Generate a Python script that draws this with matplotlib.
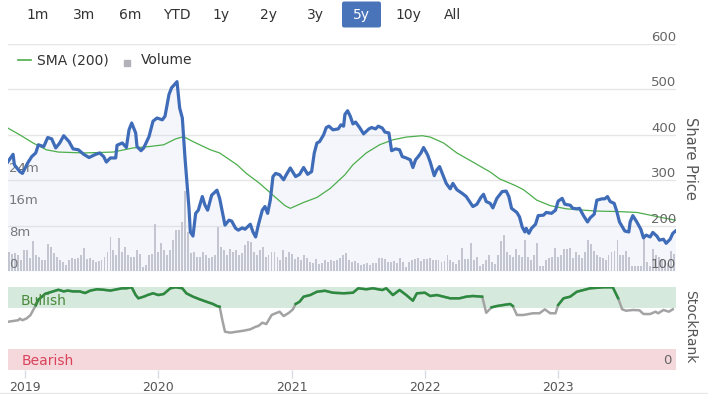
"""
5y share price chart with SMA(200), volume and StockRank panel
"""
import matplotlib
matplotlib.use('Agg')
import matplotlib.pyplot as plt
import matplotlib.transforms as mtransforms
from matplotlib.lines import Line2D
from matplotlib.patches import Rectangle, FancyBboxPatch
import numpy as np

plt.rcParams['font.family'] = 'DejaVu Sans'

# ============ data ============
price_t = [2018.87, 2018.91, 2018.92, 2018.96, 2018.98, 2019.02, 2019.05, 2019.08, 2019.10, 2019.14,
           2019.17, 2019.20, 2019.23, 2019.26, 2019.29, 2019.33, 2019.36, 2019.40, 2019.44, 2019.48,
           2019.53, 2019.56, 2019.59, 2019.61, 2019.64, 2019.68, 2019.69, 2019.73, 2019.76, 2019.78,
           2019.80, 2019.83, 2019.84, 2019.87, 2019.89, 2019.93, 2019.96, 2019.99, 2020.03, 2020.05,
           2020.08, 2020.10, 2020.11, 2020.14, 2020.16, 2020.18, 2020.20, 2020.23, 2020.24, 2020.26,
           2020.28, 2020.30, 2020.33, 2020.35, 2020.37, 2020.40, 2020.44, 2020.46, 2020.49, 2020.50,
           2020.53, 2020.55, 2020.58, 2020.60, 2020.63, 2020.65, 2020.69, 2020.71, 2020.73, 2020.75,
           2020.78, 2020.80, 2020.82, 2020.84, 2020.86, 2020.88, 2020.91, 2020.94, 2020.96, 2020.99,
           2021.03, 2021.06, 2021.09, 2021.12, 2021.15, 2021.17, 2021.19, 2021.21, 2021.24, 2021.26,
           2021.28, 2021.31, 2021.35, 2021.37, 2021.39, 2021.40, 2021.42, 2021.44, 2021.46, 2021.48,
           2021.51, 2021.54, 2021.58, 2021.60, 2021.63, 2021.65, 2021.68, 2021.70, 2021.73, 2021.75,
           2021.78, 2021.81, 2021.83, 2021.86, 2021.89, 2021.91, 2021.93, 2021.95, 2021.97, 2021.99,
           2022.02, 2022.04, 2022.07, 2022.09, 2022.11, 2022.13, 2022.16, 2022.19, 2022.21, 2022.24,
           2022.28, 2022.31, 2022.34, 2022.36, 2022.39, 2022.42, 2022.44, 2022.46, 2022.49, 2022.51,
           2022.54, 2022.58, 2022.61, 2022.63, 2022.65, 2022.69, 2022.71, 2022.73, 2022.75, 2022.76,
           2022.78, 2022.80, 2022.83, 2022.85, 2022.89, 2022.91, 2022.95, 2022.98, 2023.00, 2023.03,
           2023.05, 2023.09, 2023.11, 2023.14, 2023.16, 2023.19, 2023.22, 2023.24, 2023.27, 2023.29,
           2023.33, 2023.35, 2023.37, 2023.39, 2023.42, 2023.44, 2023.46, 2023.50, 2023.53, 2023.54,
           2023.56, 2023.59, 2023.62, 2023.64, 2023.66, 2023.69, 2023.71, 2023.74, 2023.76, 2023.79,
           2023.81, 2023.84, 2023.86, 2023.88]
price = [340, 357, 334, 319, 315, 338, 352, 360, 378, 374,
         394, 391, 371, 382, 398, 385, 369, 367, 357, 350,
         357, 360, 352, 340, 349, 349, 377, 382, 372, 411,
         426, 404, 374, 365, 371, 396, 430, 437, 433, 441,
         489, 504, 507, 517, 459, 437, 349, 238, 186, 177,
         227, 234, 264, 245, 234, 267, 278, 260, 216, 201,
         212, 210, 194, 190, 195, 192, 203, 186, 175, 201,
         234, 242, 227, 256, 308, 315, 312, 301, 312, 327,
         308, 313, 328, 313, 319, 360, 382, 385, 400, 416,
         419, 411, 413, 422, 419, 445, 453, 441, 424, 428,
         416, 402, 413, 416, 413, 419, 415, 406, 404, 365,
         369, 367, 352, 349, 345, 328, 345, 352, 360, 372,
         356, 340, 310, 323, 330, 315, 293, 281, 293, 279,
         271, 264, 251, 242, 247, 262, 269, 253, 249, 239,
         260, 275, 276, 264, 238, 229, 219, 197, 186, 194,
         183, 194, 203, 222, 223, 229, 227, 234, 254, 260,
         247, 245, 238, 237, 238, 222, 208, 217, 225, 256,
         259, 259, 264, 253, 249, 231, 208, 188, 186, 208,
         222, 208, 192, 173, 179, 175, 185, 177, 168, 170,
         161, 170, 183, 188]

sma_t = [2018.87, 2018.96, 2019.06, 2019.16, 2019.25, 2019.44, 2019.66, 2019.81, 2019.93, 2020.04,
         2020.13, 2020.19, 2020.26, 2020.39, 2020.46, 2020.59, 2020.66, 2020.76, 2020.86, 2020.95,
         2020.99, 2021.09, 2021.19, 2021.29, 2021.40, 2021.46, 2021.56, 2021.66, 2021.76, 2021.86,
         2021.98, 2022.04, 2022.14, 2022.24, 2022.36, 2022.49, 2022.56, 2022.68, 2022.74, 2022.84,
         2022.94, 2023.06, 2023.19, 2023.29, 2023.44, 2023.59, 2023.69, 2023.79, 2023.88]
sma = [415, 400, 382, 367, 362, 360, 362, 371, 374, 378,
       391, 396, 385, 367, 360, 334, 315, 293, 267, 244,
       238, 251, 262, 282, 312, 334, 360, 378, 389, 395,
       398, 395, 382, 360, 340, 318, 303, 288, 279, 256,
       244, 237, 234, 232, 231, 229, 223, 217, 212]

rank_t = [2018.87, 2018.91, 2018.95, 2018.96, 2018.98, 2019.01, 2019.04, 2019.06, 2019.08, 2019.10,
          2019.13, 2019.15, 2019.17, 2019.21, 2019.25, 2019.29, 2019.32, 2019.36, 2019.41, 2019.45,
          2019.49, 2019.54, 2019.59, 2019.64, 2019.69, 2019.73, 2019.76, 2019.80, 2019.83, 2019.85,
          2019.89, 2019.92, 2019.96, 2020.00, 2020.04, 2020.06, 2020.09, 2020.13, 2020.18, 2020.21,
          2020.26, 2020.31, 2020.36, 2020.41, 2020.44, 2020.46, 2020.48, 2020.50, 2020.54, 2020.59,
          2020.64, 2020.69, 2020.73, 2020.75, 2020.78, 2020.81, 2020.85, 2020.88, 2020.91, 2020.94,
          2020.98, 2021.01, 2021.03, 2021.06, 2021.09, 2021.14, 2021.19, 2021.25, 2021.31, 2021.39,
          2021.46, 2021.50, 2021.56, 2021.61, 2021.68, 2021.71, 2021.76, 2021.81, 2021.86, 2021.91,
          2021.94, 2022.00, 2022.04, 2022.09, 2022.14, 2022.19, 2022.26, 2022.31, 2022.36, 2022.43,
          2022.46, 2022.50, 2022.54, 2022.59, 2022.64, 2022.66, 2022.69, 2022.74, 2022.81, 2022.86,
          2022.90, 2022.94, 2022.98, 2023.00, 2023.04, 2023.09, 2023.14, 2023.19, 2023.24, 2023.34,
          2023.41, 2023.45, 2023.48, 2023.51, 2023.56, 2023.61, 2023.64, 2023.69, 2023.73, 2023.75,
          2023.79, 2023.83, 2023.86]
rank = [58, 59, 60, 62, 60, 62, 66, 72, 78, 85,
        89, 92, 93, 95, 97, 95, 96, 95, 95, 93,
        96, 97.6, 97, 96, 97.6, 98.8, 98.8, 100, 90.6, 86.6,
        88.6, 90.6, 92.7, 90.6, 91.8, 94.6, 98.8, 100, 98.8, 92.7,
        88.6, 85.4, 82.5, 79.7, 77.2, 76.4, 60.2, 46, 44.8, 46,
        47.2, 48.9, 52, 52.9, 56.9, 55.3, 66.3, 68.4, 70.3, 65,
        69, 73.2, 79.7, 82.5, 88.6, 90.6, 94.6, 95.8, 93.4, 92.7,
        93.4, 98.8, 97.6, 98.8, 96.7, 98.8, 90.6, 96.7, 90.6, 83.7,
        92.7, 93.4, 89.4, 90.6, 88.6, 86.6, 86.6, 88.6, 89.4, 88.6,
        69, 75.6, 77.2, 78.5, 79.7, 77.2, 66.3, 66.3, 68.4, 68.4,
        73.2, 68.4, 68.4, 78.5, 86.6, 88.6, 94.6, 96.7, 98.8, 100,
        100, 86.6, 73.2, 71.5, 72.4, 72, 67.5, 67.5, 70.3, 68.4,
        72.4, 70.3, 73.2]

# volume in millions, one bar per period from first to last date
volume = [4.75, 4.3, 4.5, 3.9, 2.7, 5.2, 5.2, 3.25, 7.4, 3.9, 3.5, 2.7, 2.7, 6.8, 6, 4.5, 3.5, 2.7,
          2.25, 1.4, 2.7, 3.25, 3, 3.25, 3.9, 5.75, 3, 3.25, 2.7, 2.25, 2.5, 2.7, 3.5, 4.75, 8.5, 5.3,
          3.9, 8.25, 4.75, 6, 3.9, 3.5, 3.5, 5.3, 4.3, 1, 1.4, 3.9, 4.3, 11.8, 4.75, 6.9,
          5.3, 3.9, 5.3, 7.7, 10.2, 10.2, 12.25, 20, 9.75, 4.6, 4.8, 3.5, 3.5, 4.75, 3.9, 3.25, 3.5, 4,
          11, 6, 5.3, 3.9, 5.5, 4.8, 5.3, 3.9, 4.6, 6.4, 7.4, 7.2, 4.8, 3.9, 5.3, 6, 3.5, 3.9,
          4.75, 4.75, 3.5, 2.7, 5.3, 3.5, 4.75, 4.3, 3, 3.5, 2.7, 3.9, 3.25, 2.25, 1.9, 2.9, 1.7, 1.9,
          2.7, 2.25,
          2.7, 2.5, 2.7, 3.25, 3.9, 4.5, 2.7, 2.25, 2.5, 1.9, 1.4, 1.7, 1.9, 1.4, 1.9, 2.1, 3.25, 3.25,
          2.9, 2.25, 2.25, 2.5, 1.9, 3.25, 2.25, 0.9, 2.25, 2.7, 2.9, 3.25, 2.5, 3, 2.9, 3.25, 2.7, 2.7,
          2.7, 2.25, 2.5, 3.9, 2.7, 2.25, 1.7, 2.7, 5.75, 3, 3, 7, 2.7, 3.5, 1.2, 1.7, 2.7, 3.9,
          2.25, 1.7, 3.9, 7.4, 9.1, 4.75, 3.9, 3.5, 5.6, 3.9, 3.5, 7.7, 3.5, 2.7, 3.9, 7.1, 1.25, 1.25,
          2.7, 3.25, 3.5, 5.75, 3.5, 3.9, 5.6, 5.6, 5.75, 3.25, 4.75, 3.9, 3.25, 4.75, 7.7, 6.8, 5, 3.9,
          3.5, 3.25, 2.7, 3.9, 4.75, 4.9, 7.7, 3.9, 3.9, 5, 3.5, 1.25, 1.25, 1.25, 1.25, 8.1, 2.25, 1.25,
          5.6, 3.9, 3.5, 3, 2.7, 1.9, 5, 4.3]
vol_first, vol_last = 2018.88, 2023.87

years = [2019, 2020, 2021, 2022, 2023]
range_buttons = ['1m', '3m', '6m', 'YTD', '1y', '2y', '3y', '5y', '10y', 'All']
selected_range = '5y'
price_ticks = [100, 200, 300, 400, 500, 600]
vol_ticks = [0, 8, 16, 24]
vol_labels = ['0', '8m', '16m', '24m']

# 색상
C_PRICE = '#3f6cb8'
C_SMA = '#4cae4c'
C_VOL = '#c3c5cc'
C_FILL = '#c5d0ea'
C_GRID = '#e6e6e6'
C_TEXT = '#666666'
C_BULL = '#d5e9dc'
C_BEAR = '#f5d8db'
C_RANK_UP = '#2b8a3e'
C_RANK = '#a3a3a3'

W, H = 708, 394
fig = plt.figure(figsize=(W / 100, H / 100), dpi=100)


def box(l, t, r, b):
    return [l / W, 1 - b / H, (r - l) / W, (b - t) / H]


def fx(x):
    return x / W


def fy(y):
    return 1 - y / H


xlim = (2018.872, 2023.884)

# ============ main panel ============
ax = fig.add_axes(box(8, 44, 676, 271))
ax.set_xlim(*xlim)
ax.set_ylim(0, 56.75)
for s in ax.spines.values():
    s.set_visible(False)
ax.set_xticks([])
ax.set_yticks([])

for p in price_ticks:
    f = (p - 100) / 500
    ax.plot([0, 1], [f, f], transform=ax.transAxes, color=C_GRID, lw=1, zorder=0)

vol_x = np.linspace(vol_first, vol_last, len(volume))
ax.bar(vol_x, volume, width=0.0145, color=C_VOL, linewidth=0, zorder=1)

up3 = mtransforms.offset_copy(ax.get_yaxis_transform(), fig=fig, x=1, y=3, units='dots')
for v, lab in zip(vol_ticks, vol_labels):
    ax.text(0, v, lab, transform=up3, ha='left', va='baseline',
            fontsize=9.5, color=C_TEXT, zorder=5)

ax2 = ax.twinx()
ax2.set_xlim(*xlim)
ax2.set_ylim(100, 600)
for s in ax2.spines.values():
    s.set_visible(False)
ax2.set_yticks([])
ax2.fill_between(price_t, price, 100, color=C_FILL, alpha=0.18, linewidth=0)
ax2.plot(sma_t, sma, color=C_SMA, lw=0.9)
ax2.plot(price_t, price, color=C_PRICE, lw=2.3, solid_joinstyle='round')

up3r = mtransforms.offset_copy(ax2.get_yaxis_transform(), fig=fig, y=3, units='dots')
for p in price_ticks:
    ax2.text(1.0, p, str(p), transform=up3r, ha='right', va='baseline',
             fontsize=9.5, color=C_TEXT)

fig.text(fx(691), fy(158), 'Share Price', rotation=270, ha='center', va='center',
         fontsize=10.5, color='#555555')

# legend
fig.add_artist(Line2D([fx(18), fx(31)], [fy(60), fy(60)], color=C_SMA, lw=1.2))
fig.text(fx(37), fy(60), 'SMA (200)', ha='left', va='center', fontsize=10, color='#333333')
fig.add_artist(Rectangle((fx(124), fy(66)), 6 / W, 6 / H, color='#b0b2b8',
                         transform=fig.transFigure))
fig.text(fx(141), fy(60), 'Volume', ha='left', va='center', fontsize=10, color='#333333')

# range buttons
btn_x = [38, 84, 130.5, 176.5, 221.5, 268.5, 315, 361.5, 408, 453]
for bx, lab in zip(btn_x, range_buttons):
    col = '#333333'
    if lab == selected_range:
        fig.add_artist(FancyBboxPatch((fx(342), fy(27.5)), 39 / W, 26 / H,
                                      boxstyle='round,pad=0,rounding_size=0.003',
                                      mutation_aspect=W / H,
                                      facecolor='#4a74ba', edgecolor='none',
                                      transform=fig.transFigure))
        col = 'white'
    fig.text(fx(bx), fy(15), lab, ha='center', va='center', fontsize=10, color=col)

# ============ StockRank panel ============
axb = fig.add_axes(box(8, 287.3, 676, 369.5))
axb.set_xlim(*xlim)
axb.set_ylim(0, 100)
for s in axb.spines.values():
    s.set_visible(False)
axb.axhspan(75, 100, color=C_BULL, lw=0, zorder=0)
axb.axhspan(0, 25, color=C_BEAR, lw=0, zorder=0)

rank_arr = np.array(rank, dtype=float)
axb.plot(rank_t, rank_arr, color=C_RANK, lw=1.8, solid_joinstyle='round')
axb.plot(rank_t, np.ma.masked_where(rank_arr < 75, rank_arr), color=C_RANK_UP, lw=1.8,
         solid_joinstyle='round')

band_tr = axb.get_yaxis_transform()
axb.text((20.7 - 8) / 668, 83.5, 'Bullish', ha='left', va='center', fontsize=10,
         color='#4a8a3a', transform=band_tr)
axb.text((21.7 - 8) / 668, 10.5, 'Bearish', ha='left', va='center', fontsize=10,
         color='#d9435c', transform=band_tr)
axb.text(0.994, 10.5, '0', ha='right', va='center', fontsize=9.5, color=C_TEXT,
         transform=band_tr)

axb.set_yticks([])
axb.set_xticks(years)
axb.set_xticklabels([str(y) for y in years])
axb.tick_params(axis='x', length=6, width=1, color='#d8dce6', labelcolor='#555555',
                labelsize=9, pad=2)

fig.text(fx(690), fy(327), 'StockRank', rotation=270, ha='center', va='center',
         fontsize=10, color='#555555')

# 하단 구분선
fig.add_artist(Line2D([0, 1], [fy(393), fy(393)], color='#e8e8e8', lw=1))

fig.savefig('out.png', dpi=100, facecolor='white')
